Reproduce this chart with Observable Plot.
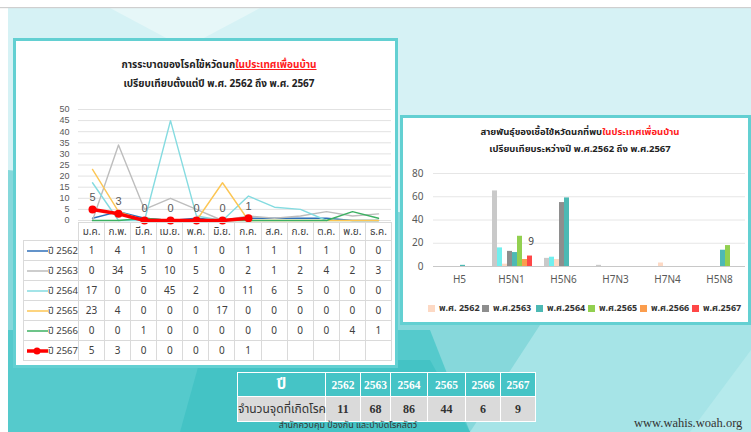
<!DOCTYPE html>
<html><head><meta charset="utf-8">
<script src="https://cdn.jsdelivr.net/npm/d3@7"></script>
<script src="https://cdn.jsdelivr.net/npm/@observablehq/plot@0.6"></script>
<style>
body{margin:0;width:751px;height:432px;overflow:hidden;position:relative;background:#fff;font-family:"Noto Sans Thai","Tahoma","Loma","Garuda","Noto Sans","DejaVu Sans",sans-serif;}
.abs{position:absolute;}
.ttl{text-align:center;font-weight:bold;color:#222;white-space:nowrap;}
.red{color:#ff1a1a;}
#tblL{border-collapse:collapse;table-layout:fixed;font-size:10px;color:#404040;}
#tblL td{border:1px solid #dadada;text-align:center;padding:0;height:19px;}
#tblL tr.hd td{height:17px;}
#tblL td.lg{text-align:left;white-space:nowrap;}
#tblB{border-collapse:collapse;table-layout:fixed;font-family:"Liberation Serif","DejaVu Serif",serif;}
#tblB td{border:1.5px solid #fff;text-align:center;padding:0;font-weight:bold;}
.leg{font-size:9px;font-weight:bold;color:#333;white-space:nowrap;display:flex;align-items:center;}
.sw{display:inline-block;width:7px;height:7px;margin-right:4px;}
</style></head><body>
<svg class="abs" style="left:0;top:0" width="751" height="432">
  <rect x="8" y="8" width="743" height="424" fill="#d6f2f5"/>
  <polygon points="110,8 260,8 200,40 170,40" fill="#e6f7f8"/>
  <polygon points="8,170 751,250 751,432 8,432" fill="#86d8db"/>
  <polygon points="540,325 751,300 751,432 470,432" fill="#a6e4e7"/>
  <polygon points="690,432 751,350 751,432" fill="#b5eaec"/>
  <polygon points="8,330 430,330 470,432 8,432" fill="#55cacc"/>
  <polygon points="200,360 430,360 470,432 180,432" fill="#44c3c5"/>
  <rect x="0" y="7" width="751" height="1.2" fill="#cfcfcf"/>
</svg>
<div class="abs" style="left:13px;top:38px;width:379px;height:324px;border:3px solid #63d0d2;background:#fff"></div>
<div class="abs" style="left:400px;top:115px;width:345px;height:204px;border:3px solid #63d0d2;background:#fff"></div>

<div class="abs ttl" style="left:99px;top:58px;width:240px;font-size:10px;line-height:15px">การระบาดของโรคไข้หวัดนก<span class="red" style="text-decoration:underline">ในประเทศเพื่อนบ้าน</span></div>
<div class="abs ttl" style="left:99px;top:77px;width:240px;font-size:10px;line-height:15px">เปรียบเทียบตั้งแต่ปี พ.ศ. 2562 ถึง พ.ศ. 2567</div>
<div id="lineChart" class="abs" style="left:0;top:95px"></div>
<div id="tblWrap" class="abs" style="left:23px;top:222px"></div>

<div class="abs ttl" style="left:460px;top:125px;width:240px;font-size:9.5px;line-height:15px">สายพันธุ์ของเชื้อไข้หวัดนกที่พบ<span class="red">ในประเทศเพื่อนบ้าน</span></div>
<div class="abs ttl" style="left:460px;top:142px;width:240px;font-size:9.5px;line-height:15px">เปรียบเทียบระหว่างปี พ.ศ.2562 ถึง พ.ศ.2567</div>
<div id="barChart" class="abs" style="left:401px;top:160px"></div>
<div id="barLegend"></div>

<div id="bTbl" class="abs" style="left:237px;top:372px"></div>
<div class="abs" style="left:248px;top:419px;width:200px;text-align:center;font-size:9px;line-height:12px;color:#333;white-space:nowrap">สำนักควบคุม ป้องกัน และบำบัดโรคสัตว์</div>
<div class="abs" style="left:634px;top:416px;font-family:'Liberation Serif',serif;font-size:12.5px;line-height:14px;color:#333;white-space:nowrap">www.wahis.woah.org</div>

<script>
// ---------- Line chart data ----------
const months = ["ม.ค.","ก.พ.","มี.ค.","เม.ย.","พ.ค.","มิ.ย.","ก.ค.","ส.ค.","ก.ย.","ต.ค.","พ.ย.","ธ.ค."];
const yearLabels = ["ปี 2562","ปี 2563","ปี 2564","ปี 2565","ปี 2566","ปี 2567"];
const cases2562 = [1,4,1,0,1,0,1,1,1,1,0,0];
const cases2563 = [0,34,5,10,5,0,2,1,2,4,2,3];
const cases2564 = [17,0,0,45,2,0,11,6,5,0,0,0];
const cases2565 = [23,4,0,0,0,17,0,0,0,0,0,0];
const cases2566 = [0,0,1,0,0,0,0,0,0,0,4,1];
const cases2567 = [5,3,0,0,0,0,1];
const lineColors = ["#2f6fb8","#bdbdbd","#84dbe0","#fcc654","#3cb062","#ff0000"];
const yTicksLine = [0,5,10,15,20,25,30,35,40,45,50];

// ---------- Bar chart data ----------
const subtypes = ["H5","H5N1","H5N6","H7N3","H7N4","H5N8"];
const barSeries = ["ชุด ก","ชุด ข","พ.ศ. 2562","พ.ศ.2563","พ.ศ.2564","พ.ศ.2565","พ.ศ.2566","พ.ศ.2567"];
const barA    = [0,65,7,1,0,0];
const barB    = [0,16,8,0,0,0];
const bar2562 = [0,2,6,0,3,0];
const bar2563 = [0,13,55,0,0,0];
const bar2564 = [1,12,59,0,0,14];
const bar2565 = [0,26,0,0,0,18];
const bar2566 = [0,6,0,0,0,0];
const bar2567 = [0,9,0,0,0,0];
const barColors = ["#c9c9c9","#72efee","#fdd9c4","#8e8e8e","#4db9b4","#92d050","#fb9d4d","#ff4747"];
const legendSeries = barSeries.slice(2);
const yTicksBar = [0,20,40,60,80];

// ---------- Summary table ----------
const summaryYears = ["2562","2563","2564","2565","2566","2567"];
const summaryPoints = [11,68,86,44,6,9];

// ===== Line chart =====
const lineSeries = [cases2562,cases2563,cases2564,cases2565,cases2566,cases2567];
const lineRows = [];
lineSeries.forEach((arr,k)=>arr.forEach((v,i)=>lineRows.push({month:months[i], year:yearLabels[k], value:v})));
const thinRows = lineRows.filter(d=>d.year!=="ปี 2567");
const redRows = lineRows.filter(d=>d.year==="ปี 2567");

const lc = Plot.plot({
  width:400, height:140, marginLeft:78, marginRight:9, marginTop:14, marginBottom:15,
  style:{background:"transparent", color:"#595959", fontSize:"9px", fontFamily:"'Liberation Sans',Arial,sans-serif"},
  x:{type:"point", domain:months, padding:0.5, axis:null},
  y:{domain:[0,50], ticks:10, tickSize:0, tickPadding:9, label:null},
  color:{domain:yearLabels, range:lineColors},
  marks:[
    Plot.ruleY(yTicksLine, {stroke:"#e2e2e2", strokeWidth:1}),
    Plot.line(thinRows, {x:"month", y:"value", z:"year", stroke:"year", strokeWidth:1.4}),
    Plot.line(redRows, {x:"month", y:"value", stroke:"year", strokeWidth:3.5}),
    Plot.dot(redRows, {x:"month", y:"value", fill:"year", r:4}),
    Plot.text(redRows, {x:"month", y:"value", text:d=>String(d.value), dy:-12, fill:"#595959", fontSize:11})
  ]
});
document.getElementById("lineChart").appendChild(lc);

// data table under the line chart
const tbl = d3.select("#tblWrap").append("table").attr("id","tblL").style("width","368px");
const cg = tbl.append("colgroup");
cg.append("col").style("width","55px");
months.forEach(()=>cg.append("col").style("width",(313/12)+"px"));
const hr = tbl.append("tr").attr("class","hd");
hr.append("td").style("border-top","none").style("border-left","none");
months.forEach(m=>hr.append("td").text(m));
lineSeries.forEach((arr,k)=>{
  const tr = tbl.append("tr");
  const td = tr.append("td").attr("class","lg");
  const sv = td.append("svg").attr("width",24).attr("height",10).style("vertical-align","middle");
  sv.append("line").attr("x1",3).attr("x2",24).attr("y1",5).attr("y2",5)
    .attr("stroke",lineColors[k]).attr("stroke-width",k===5?3.5:1.5);
  if(k===5) sv.append("circle").attr("cx",13).attr("cy",5).attr("r",3.5).attr("fill",lineColors[k]);
  td.append("span").text(yearLabels[k]).style("font-size","9.5px");
  months.forEach((m,i)=>tr.append("td").text(i<arr.length?arr[i]:""));
});

// ===== Bar chart =====
const barArrays = [barA,barB,bar2562,bar2563,bar2564,bar2565,bar2566,bar2567];
const barRows = [];
barArrays.forEach((arr,k)=>arr.forEach((v,i)=>{ if(v>0) barRows.push({type:subtypes[i], series:barSeries[k], value:v}); }));
const labelRows = barRows.filter(d=>d.series==="พ.ศ.2567");

const bc = Plot.plot({
  width:350, height:128, marginLeft:30, marginRight:5, marginTop:13, marginBottom:22,
  style:{background:"transparent", color:"#595959", fontSize:"10px", fontFamily:"'Noto Sans','DejaVu Sans',sans-serif"},
  fx:{domain:subtypes, padding:0, axis:"bottom", tickSize:0, tickPadding:9, label:null},
  x:{domain:barSeries, padding:0, axis:null, insetLeft:4, insetRight:3},
  y:{domain:[0,80], ticks:4, tickSize:0, tickPadding:10, label:null},
  color:{domain:barSeries, range:barColors},
  marks:[
    Plot.ruleY(yTicksBar.slice(1), {stroke:"#e6e6e6"}),
    Plot.barY(barRows, {fx:"type", x:"series", y:"value", fill:"series"}),
    Plot.ruleY([0], {stroke:"#c8c8c8"}),
    Plot.text(labelRows, {fx:"type", x:"series", y:"value", text:d=>String(d.value), dy:-14, dx:1, fill:"#404040", fontSize:10})
  ]
});
document.getElementById("barChart").appendChild(bc);

// bar legend
const legX = [428,482,536,588,640,692];
legendSeries.forEach((s,i)=>{
  const k = barSeries.indexOf(s);
  const d = d3.select("#barLegend").append("div").attr("class","abs leg")
    .style("left",legX[i]+"px").style("top","301px");
  d.append("span").attr("class","sw").style("background",barColors[k]);
  d.append("span").text(s);
});

// ===== Summary table =====
const bt = d3.select("#bTbl").append("table").attr("id","tblB").style("width","298px");
const bcg = bt.append("colgroup");
[88,35,30,37,38,35,35].forEach(w=>bcg.append("col").style("width",w+"px"));
const r1 = bt.append("tr").style("background","#45c4c6").style("color","#fff");
r1.append("td").text("ปี").style("font-size","15px").style("height","22px").style("font-family","'Noto Sans Thai',Tahoma,'DejaVu Sans',sans-serif");
summaryYears.forEach(y=>r1.append("td").text(y).style("font-size","11.5px"));
const r2 = bt.append("tr").style("background","#dadada").style("color","#333");
r2.append("td").text("จำนวนจุดที่เกิดโรค").style("font-size","12px").style("height","24px").style("font-weight","normal").style("white-space","nowrap").style("text-align","left").style("font-family","'Noto Sans Thai',Tahoma,'DejaVu Sans',sans-serif");
summaryPoints.forEach(v=>r2.append("td").text(v).style("font-size","12px"));
</script>
</body></html>
